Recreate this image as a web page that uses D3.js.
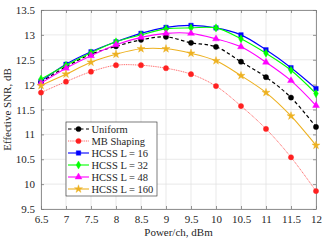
<!DOCTYPE html>
<html lang="en">
<head>
  <meta charset="UTF-8">
  <title>Effective SNR vs power</title>
  <script src="https://d3js.org/d3.v7.min.js"></script>
  <style>
    body { margin: 0; padding: 0; background: #fff; }
    svg text { font-family: "Liberation Serif", "Times New Roman", serif; fill: #262626; }
  </style>
</head>
<body>
  <div id="chart"></div>
  <script>
    const power = [6.5, 7, 7.5, 8, 8.5, 9, 9.5, 10, 10.5, 11, 11.5, 12];
    const uniform = [12.05, 12.36, 12.61, 12.77, 12.90, 12.96, 12.84, 12.76, 12.46, 12.15, 11.74, 11.15];
    const mbShaping = [11.84, 12.06, 12.26, 12.39, 12.39, 12.33, 12.21, 11.97, 11.57, 11.11, 10.54, 9.86];
    const hcss16 = [12.07, 12.41, 12.66, 12.86, 13.03, 13.15, 13.19, 13.14, 13.00, 12.70, 12.34, 11.92];
    const hcss32 = [12.11, 12.39, 12.64, 12.86, 13.00, 13.12, 13.14, 13.14, 12.92, 12.63, 12.29, 11.82];
    const hcss48 = [12.03, 12.33, 12.58, 12.80, 12.95, 13.03, 13.03, 12.92, 12.76, 12.45, 12.08, 11.58];
    const hcss160 = [11.98, 12.21, 12.45, 12.61, 12.72, 12.72, 12.63, 12.48, 12.18, 11.84, 11.37, 10.78];
    const xTicks = [6.5, 7, 7.5, 8, 8.5, 9, 9.5, 10, 10.5, 11, 11.5, 12];
    const yTicks = [9.5, 10, 10.5, 11, 11.5, 12, 12.5, 13, 13.5];

    const series = [
      { name: "Uniform", values: uniform, color: "#000000", dash: "3.5,2.5", marker: "circle", width: 1.2 },
      { name: "MB Shaping", values: mbShaping, color: "#ff2020", dash: "1,0.8", marker: "circle", width: 0.7 },
      { name: "HCSS L = 16", values: hcss16, color: "#0000ff", dash: null, marker: "square", width: 1.1 },
      { name: "HCSS L = 32", values: hcss32, color: "#00ff00", dash: null, marker: "diamond", width: 1.1 },
      { name: "HCSS L = 48", values: hcss48, color: "#ff00ff", dash: null, marker: "triangle", width: 1.1 },
      { name: "HCSS L = 160", values: hcss160, color: "#edb120", dash: null, marker: "star", width: 1.1 }
    ];

    const W = 329, H = 241;
    const margin = { top: 10, right: 13, bottom: 32, left: 41 };
    const width = W - margin.left - margin.right;
    const height = H - margin.top - margin.bottom;

    const svg = d3.select("#chart").append("svg")
      .attr("width", W).attr("height", H);
    const g = svg.append("g").attr("transform", `translate(${margin.left},${margin.top})`);

    const x = d3.scaleLinear().domain([6.5, 12]).range([0, width]);
    const y = d3.scaleLinear().domain([9.5, 13.5]).range([height, 0]);

    // grid
    g.append("g").selectAll("line").data(xTicks).join("line")
      .attr("x1", d => x(d)).attr("x2", d => x(d)).attr("y1", 0).attr("y2", height)
      .attr("stroke", "#e3e3e3").attr("stroke-width", 0.8);
    g.append("g").selectAll("line").data(yTicks).join("line")
      .attr("y1", d => y(d)).attr("y2", d => y(d)).attr("x1", 0).attr("x2", width)
      .attr("stroke", "#e3e3e3").attr("stroke-width", 0.8);

    // axes
    const xAxis = g.append("g").attr("transform", `translate(0,${height})`)
      .call(d3.axisBottom(x).tickValues(xTicks).tickSizeInner(-3).tickSizeOuter(0).tickPadding(6).tickFormat(d3.format("")));
    const yAxis = g.append("g")
      .call(d3.axisLeft(y).tickValues(yTicks).tickSizeInner(-3).tickSizeOuter(0).tickPadding(6).tickFormat(d3.format("")));
    const xTop = g.append("g")
      .call(d3.axisTop(x).tickValues(xTicks).tickSizeInner(-3).tickSizeOuter(0).tickFormat(""));
    const yRight = g.append("g").attr("transform", `translate(${width},0)`)
      .call(d3.axisRight(y).tickValues(yTicks).tickSizeInner(-3).tickSizeOuter(0).tickFormat(""));
    [xAxis, yAxis, xTop, yRight].forEach(a => {
      a.selectAll("path").attr("stroke", "#7a7a7a").attr("stroke-width", 0.8);
      a.selectAll("line").attr("stroke", "#7a7a7a").attr("stroke-width", 0.8);
      a.selectAll("text").attr("font-size", 11).attr("fill", "#262626")
        .style("font-family", "'Liberation Serif', serif");
    });

    svg.append("text")
      .attr("x", margin.left + width / 2).attr("y", 236)
      .attr("text-anchor", "middle").attr("font-size", 11)
      .text("Power/ch, dBm");
    svg.append("text")
      .attr("transform", `translate(11,${margin.top + height / 2}) rotate(-90)`)
      .attr("text-anchor", "middle").attr("font-size", 11)
      .text("Effective SNR, dB");

    function markerPath(type, s) {
      if (type === "circle") return d3.symbol(d3.symbolCircle, s * s * 0.8)();
      if (type === "square") return d3.symbol(d3.symbolSquare, s * s * 0.75)();
      if (type === "diamond") return d3.symbol(d3.symbolDiamond, s * s * 0.7)();
      if (type === "triangle") return d3.symbol(d3.symbolTriangle, s * s * 0.75)();
      if (type === "star") return d3.symbol(d3.symbolStar, s * s * 0.75)();
    }

    const line = d3.line()
      .x((d, i) => x(power[i]))
      .y(d => y(d))
      .curve(d3.curveCatmullRom.alpha(0.5));

    series.forEach(s => {
      g.append("path")
        .attr("d", line(s.values))
        .attr("fill", "none")
        .attr("stroke", s.color)
        .attr("stroke-width", s.width)
        .attr("stroke-dasharray", s.dash);
      g.append("g").selectAll("path").data(s.values).join("path")
        .attr("transform", (d, i) => `translate(${x(power[i])},${y(d)})`)
        .attr("d", markerPath(s.marker, 5.2))
        .attr("fill", s.color)
        .attr("stroke", s.color)
        .attr("stroke-width", 0.4);
    });

    // legend
    const lg = svg.append("g").attr("transform", "translate(66,122)");
    lg.append("rect")
      .attr("x", 0).attr("y", 0).attr("width", 91).attr("height", 74)
      .attr("fill", "#fff").attr("stroke", "#262626").attr("stroke-width", 0.6);
    series.forEach((s, i) => {
      const ry = 7 + i * 12;
      lg.append("line")
        .attr("x1", 2).attr("x2", 23).attr("y1", ry).attr("y2", ry)
        .attr("stroke", s.color).attr("stroke-width", s.width)
        .attr("stroke-dasharray", s.dash);
      lg.append("path")
        .attr("transform", `translate(12.5,${ry})`)
        .attr("d", markerPath(s.marker, 5.2))
        .attr("fill", s.color).attr("stroke", s.color).attr("stroke-width", 0.4);
      lg.append("text")
        .attr("x", 25.5).attr("y", ry).attr("dy", "0.35em")
        .attr("font-size", 10.5)
        .text(s.name);
    });
  </script>
</body>
</html>
